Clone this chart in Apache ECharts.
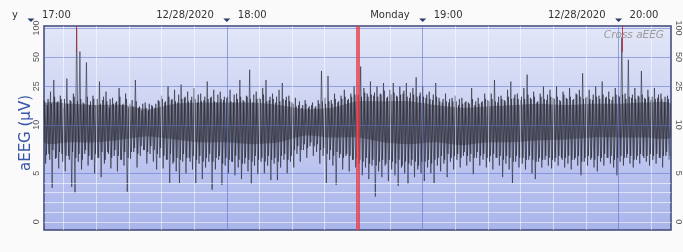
<!DOCTYPE html>
<html><head><meta charset="utf-8">
<script src="https://cdn.jsdelivr.net/npm/echarts@6/dist/echarts.min.js"></script>
<style>html,body{margin:0;padding:0;background:#fafafa}#c{width:683px;height:252px}</style>
</head><body><div id="c"></div>
<script>
// ---- data ----
const hourTicks = [0, 60, 120, 180];           // minutes after 17:00
const hourLabels = ['17:00', '18:00', '19:00', '20:00'];
const dayLabels = ['y', '12/28/2020', 'Monday', '12/28/2020'];
const yTickValues = [0, 5, 10, 25, 50, 100];
const yTickLabels = ['0', '5', '10', '25', '50', '100'];
const gridLowValues = [0, 1, 2, 3, 4];
const gridMainValues = [5, 10, 25, 50, 100];
const minorMinutes = [10, 20, 30, 40, 50, 70, 80, 90, 100, 110, 130, 140, 150, 160, 170, 190];
const firstMinute = 4;   // one bin per minute from 17:04
// per-minute extreme max / min (µV)
const hi = [
  18,16,22,29,17,20,
  15,30,18,21,100,57,17,44,16,20,
  16,28,18,22,15,19,17,24,16,21,
  15,18,29,15,14,17,14,16,15,18,
  20,17,25,18,23,17,26,19,22,18,
  24,17,21,18,28,19,23,17,22,18,
  19,23,17,21,29,18,20,37,17,22,
  19,24,29,18,21,17,23,27,18,20,
  17,19,16,15,18,15,16,15,18,36,
  19,32,18,21,17,20,23,18,21,25,
  20,40,24,21,28,20,25,21,27,19,
  23,27,20,25,21,27,19,24,31,20,
  25,19,22,18,27,19,17,21,17,19,
  20,16,19,17,17,24,16,19,17,21,
  18,21,29,17,20,18,23,28,19,21,
  18,24,33,19,22,17,21,25,18,23,
  19,25,18,22,19,24,18,21,23,34,
  19,23,18,25,20,28,19,22,18,24,
  20,80,21,47,19,24,20,36,19,23,
  18,24,19,21,17,20
];
const lo = [
  6,7,3.5,6.5,5.5,7,
  5.2,6.8,3.6,3.0,6.2,5.4,7,5.8,6.4,5,
  6.6,4.6,6,7.2,5.5,6.8,5.2,6.4,5.8,3.1,
  6.5,7.2,5.6,6.8,7.4,6.0,7.0,6.2,5.4,6.6,
  5.5,6.4,4.0,6.0,5.2,4.0,6.2,5.0,6.6,5.4,
  4.0,6.0,4.4,5.6,6.2,3.3,5.4,6.4,3.8,5.8,
  5.0,6.2,4.8,5.6,4.4,6.0,5.2,3.9,5.8,4.9,
  6.2,5.0,5.8,4.3,6.0,4.3,5.6,6.4,5.0,6.2,
  5.6,7.0,6.2,7.4,6.6,7.8,6.8,7.2,6.0,6.8,
  4.0,6.4,5.8,3.8,6.6,5.4,6.8,5.2,6.4,5.6,
  6.0,4.8,5.6,4.4,5.8,2.6,5.2,4.6,5.8,4.2,
  5.4,4.8,3.7,5.6,5.0,3.9,5.8,4.6,5.4,5.0,
  4.2,5.6,5.0,4.0,5.8,5.2,6.0,4.6,6.2,5.4,
  6.4,5.6,6.8,5.8,6.2,4.9,6.6,5.8,6.4,5.6,
  6.2,5.4,6.6,5.8,4.6,6.0,5.4,4.0,6.2,5.6,
  6.0,5.4,6.4,5.0,4.4,6.2,5.6,6.4,5.8,5.5,
  6.2,5.8,6.6,5.6,6.0,5.4,6.4,5.8,4.8,6.2,
  5.8,6.4,5.6,5.2,6.2,5.8,6.6,6.0,5.6,4.8,
  6.2,5.8,6.6,6.0,5.6,6.4,6.0,6.8,6.2,5.8,
  6.4,6.0,6.6,5.6,6.8,6.4
];
// per-minute typical swing max / min (µV)
const midHi = [
  17.5,18.5,16.5,19.5,17.5,18.5,
  18.5,16.5,17.5,19.5,17.5,18.5,16.5,19.5,17.5,18.5,
  18.5,16.5,19.5,17.5,18.5,16.5,17.5,19.5,16.5,18.5,
  16.5,15.5,17.5,15.5,16.5,15,16.5,15.5,16.5,17.5,
  18.5,17.5,19.5,18.5,17.5,20.5,18.5,19.5,17.5,19.5,
  18.5,20.5,17.5,19.5,18.5,19.5,17.5,20.5,18.5,19.5,
  19.5,17.5,20.5,18.5,19.5,17.5,19.5,18.5,20.5,18.5,
  18.5,20.5,17.5,19.5,18.5,19.5,17.5,18.5,19.5,17.5,
  16.5,15.5,17.5,16,16.5,15.5,17,15.5,16.5,17.5,
  16.5,17.5,16.5,18.5,17.5,18.5,19.5,18.5,19.5,20.5,
  20.5,19.5,21.5,19.5,20.5,21.5,19.5,20.5,22.5,19.5,
  20.5,21.5,19.5,20.5,22.5,19.5,21.5,20.5,19.5,21.5,
  19.5,20.5,18.5,20.5,19.5,17.5,18.5,17.5,18.5,17.5,
  17.5,18.5,16.5,17.5,16.5,18.5,17.5,16.5,17.5,18.5,
  17.5,18.5,17.5,19.5,18.5,17.5,19.5,18.5,20.5,18.5,
  19.5,18.5,20.5,18.5,19.5,17.5,19.5,18.5,20.5,19.5,
  18.5,19.5,17.5,20.5,18.5,19.5,18.5,20.5,19.5,18.5,
  19.5,18.5,20.5,19.5,18.5,20.5,19.5,18.5,19.5,20.5,
  19.5,20.5,18.5,19.5,20.5,18.5,19.5,20.5,18.5,19.5,
  19.5,18.5,20.5,18.5,19.5,18.5
];
const midLo = [
  6.9,6.4,7.4,6.6,7.2,6.2,
  6.8,6.4,7.2,6.6,7,6.4,7.4,6.8,6.4,7,
  6.6,7.2,6.4,7,6.6,7.4,6.8,6.4,7.2,6.6,
  7.2,7.6,7,7.8,7.4,7.2,7.8,7.4,7,7.6,
  6.8,6.4,7,6.2,6.6,6.4,7,6.6,6.2,6.8,
  6.4,6.8,6.2,6.6,7,6.2,6.6,6.8,6,6.6,
  6.4,6.2,6.8,6.4,6,6.6,6.4,6.2,6.8,6.4,
  6.6,6.2,6.8,6.4,6.6,6.2,6.8,7,6.4,6.8,
  7.4,7.8,7.4,8,7.6,8.2,7.8,8,7.4,7.6,
  7,7.4,6.8,7.2,7,6.6,7,6.8,6.4,6.6,
  6.4,6.2,6.6,6,6.4,5.8,6.2,6.4,6,6.4,
  6.2,6,6.4,5.8,6.2,6,6.4,6.2,5.8,6.2,
  6.2,6.4,6,6.4,6.6,6.8,6.4,7,6.6,6.8,
  7,6.6,7.2,6.8,7,6.6,7.2,6.8,7,6.6,
  6.8,7,6.6,6.8,6.4,6.8,6.6,6.2,6.8,6.6,
  6.6,6.4,6.8,6.4,6.2,6.6,6.4,6.8,6.6,6.4,
  6.6,6.8,6.4,6.6,6.8,6.4,6.6,6.8,6.2,6.6,
  6.8,6.6,6.4,6.8,6.6,7,6.6,6.8,6.4,6.6,
  6.8,6.6,7,6.8,6.4,6.8,7,6.6,6.8,7,
  6.8,7,6.6,6.8,7.2,6.8
];
const coreMinutes = [4,12,20,28,36,44,52,60,68,76,84,92,100,108,116,124,132,140,148,156,164,172,180,188,196];
const coreHi = [16.5,16.5,16,16,14.5,16.5,17,17,17,16,14.5,15,17.5,17.5,17.5,16,15,15.5,16,16.5,16,16.5,16.5,17,16.5];
const coreLo = [8.2,8.2,8.2,8.5,8.8,8.5,8.2,8.2,8,8.2,8.9,8.7,8.7,8.2,8,8.2,7.9,8.2,8.2,8.4,8.5,8.7,8.7,8.7,8.7];
const markerMinute = 100;       // red cursor 18:40
const eventMinutes = [14, 181];

// ---- aEEG scale: linear 0-10, log 10-100 ----
function T(v) { return v <= 10 ? v : 10 + 10 * Math.log10(v / 10); }

const zig = [], zigMid = [];
hi.forEach((h, i) => {
  zig.push([firstMinute + i, T(h)]);
  zig.push([firstMinute + i + 0.5, T(lo[i])]);
  zigMid.push([firstMinute + i + 0.25, T(midHi[i])]);
  zigMid.push([firstMinute + i + 0.75, T(midLo[i])]);
});
const coreData = coreMinutes.map((m, i) => [m, T(coreHi[i]), T(coreLo[i])]);

const tickT = yTickValues.map(T);
function labelFor(val) {
  let best = 0;
  tickT.forEach((t, i) => { if (Math.abs(t - val) < Math.abs(tickT[best] - val)) best = i; });
  return yTickLabels[best];
}

const chart = echarts.init(document.getElementById('c'), null, { renderer: 'canvas' });
const Y_MIN = -0.85, Y_MAX = 20.2;
const gridLines = [];
gridLowValues.forEach(v => gridLines.push({ yAxis: T(v), lineStyle: { color: 'rgba(255,255,255,0.55)', width: 1, type: 'solid' } }));
gridMainValues.forEach(v => gridLines.push({ yAxis: T(v), lineStyle: { color: 'rgba(95,115,205,0.55)', width: 1, type: 'solid' } }));
minorMinutes.forEach(m => gridLines.push({ xAxis: m, lineStyle: { color: 'rgba(255,255,255,0.5)', width: 1, type: 'solid' } }));
hourTicks.filter(m => m > 4).forEach(m => gridLines.push({ xAxis: m, lineStyle: { color: 'rgba(95,115,205,0.6)', width: 1, type: 'solid' } }));

const yAxisCommon = {
  type: 'value', min: Y_MIN, max: Y_MAX,
  axisLine: { show: false }, axisTick: { show: false }, splitLine: { show: false }
};
const traceStyle = { color: '#1e1e28', width: 0.7, opacity: 0.8 };

chart.setOption({
  backgroundColor: '#fafafa',
  animation: false,
  grid: {
    left: 44, right: 9, top: 26, bottom: 22, show: true,
    borderColor: '#3b4775', borderWidth: 1.5,
    backgroundColor: new echarts.graphic.LinearGradient(0, 0, 0, 1, [
      { offset: 0, color: '#e3e7f8' }, { offset: 1, color: '#a9b4ea' }
    ])
  },
  xAxis: { type: 'value', min: 4, max: 196.07, show: false },
  yAxis: [
    Object.assign({}, yAxisCommon, {
      position: 'left',
      axisLabel: { customValues: tickT, formatter: labelFor, rotate: 90, margin: 3,
        fontSize: 9, color: '#555', fontFamily: 'Liberation Sans' }
    }),
    Object.assign({}, yAxisCommon, {
      position: 'right',
      axisLabel: { customValues: tickT, formatter: labelFor, rotate: -90, margin: 3,
        fontSize: 9, color: '#555', fontFamily: 'Liberation Sans' }
    })
  ],
  series: [
    { type: 'line', data: [], silent: true, z: 1,
      markLine: { silent: true, symbol: 'none', label: { show: false }, animation: false, data: gridLines } },
    { type: 'custom', data: coreData, z: 2, silent: true, clip: true,
      renderItem: function (params, api) {
        if (params.dataIndex !== 0) return null;
        const top = [], bot = [];
        coreData.forEach(d => { top.push(api.coord([d[0], d[1]])); bot.push(api.coord([d[0], d[2]])); });
        return { type: 'polygon', shape: { points: top.concat(bot.reverse()), smooth: 0.25 },
          style: { fill: 'rgba(22,22,30,0.35)' } };
      } },
    { type: 'line', data: zigMid, symbol: 'none', z: 3, silent: true, lineStyle: traceStyle },
    { type: 'line', data: zig, symbol: 'none', z: 3, silent: true, lineStyle: traceStyle },
    { type: 'line', data: [], silent: true, z: 5,
      markLine: { silent: true, symbol: 'none', label: { show: false }, animation: false,
        data: [
          { xAxis: markerMinute, lineStyle: { color: 'rgba(228,55,65,0.75)', width: 4, type: 'solid' } }
        ].concat(eventMinutes.map(m => [
          { coord: [m, Y_MAX], lineStyle: { color: 'rgba(190,40,50,0.85)', width: 1, type: 'solid' } },
          { coord: [m, 17.5] }
        ])) } }
  ]
});

// top time labels, placed through the x axis scale
const g = [];
hourTicks.forEach((m, i) => {
  const x = chart.convertToPixel({ xAxisIndex: 0 }, m);
  g.push({ type: 'polygon', shape: { points: [[x - 3.5, 18.5], [x + 3.5, 18.5], [x, 22]] },
    style: { fill: '#2b3a6b' }, z: 10 });
  g.push({ type: 'text', x: x + 11, y: 15, style: { text: hourLabels[i], fill: '#333', font: '10px "DejaVu Sans"',
    textAlign: 'left', textVerticalAlign: 'middle' }, z: 10 });
  g.push({ type: 'text', x: x - 13, y: 15, style: { text: dayLabels[i], fill: '#333', font: '10px "DejaVu Sans"',
    textAlign: 'right', textVerticalAlign: 'middle' }, z: 10 });
});
g.push({ type: 'text', x: 664, y: 35, style: { text: 'Cross aEEG', fill: '#9a9a9a', font: 'italic 10.5px "DejaVu Sans"',
  textAlign: 'right', textVerticalAlign: 'middle' }, z: 10 });
g.push({ type: 'text', x: 26, y: 133, rotation: Math.PI / 2,
  style: { text: 'aEEG (µV)', fill: '#3a56a8', font: '15px "DejaVu Sans"', textAlign: 'center', textVerticalAlign: 'middle' }, z: 10 });
chart.setOption({ graphic: g });
</script>
</body></html>
